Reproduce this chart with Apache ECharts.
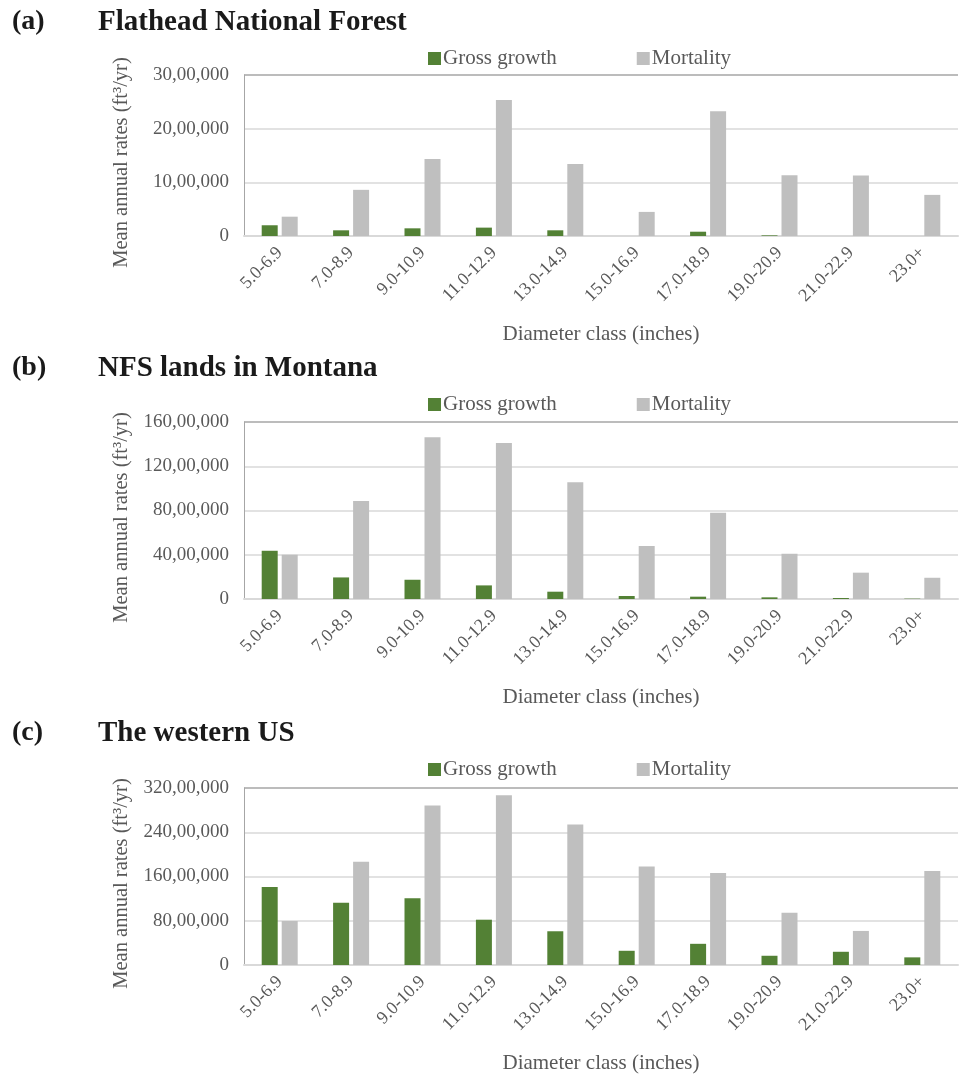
<!DOCTYPE html>
<html>
<head>
<meta charset="utf-8">
<title>Gross growth and mortality by diameter class</title>
<script src="https://cdn.jsdelivr.net/npm/echarts@6/dist/echarts.min.js"></script>
<style>
  html, body { margin: 0; padding: 0; background: #ffffff; }
  #chart { width: 959px; height: 1075px; }
</style>
</head>
<body>
<div id="chart"></div>
<script>
// Diameter classes shared by all three panels
const categories = ['5.0-6.9', '7.0-8.9', '9.0-10.9', '11.0-12.9', '13.0-14.9',
                    '15.0-16.9', '17.0-18.9', '19.0-20.9', '21.0-22.9', '23.0+'];

// (a) Flathead National Forest, ft³/yr
const flatheadGrowth    = [200000, 106000, 143000, 156000, 106000, 0, 80000, 12000, 0, 0];
const flatheadMortality = [360000, 860000, 1433000, 2536000, 1340000, 449000, 2324000, 1134000, 1128000, 766000];

// (b) NFS lands in Montana, ft³/yr
const montanaGrowth    = [4360000, 1950000, 1740000, 1230000, 660000, 270000, 210000, 150000, 90000, 30000];
const montanaMortality = [4000000, 8870000, 14620000, 14100000, 10550000, 4780000, 7790000, 4090000, 2380000, 1920000];

// (c) The western US, ft³/yr
const westernGrowth    = [14110000, 11240000, 12080000, 8190000, 6100000, 2570000, 3830000, 1670000, 2390000, 1380000];
const westernMortality = [7950000, 18660000, 28830000, 30680000, 25420000, 17820000, 16630000, 9450000, 6160000, 16990000];

// Panel headings and y-axis ranges
const panelLetters = ['(a)', '(b)', '(c)'];
const panelTitles  = ['Flathead National Forest', 'NFS lands in Montana', 'The western US'];
const axisMax      = [3000000, 16000000, 32000000];
const axisStep     = [1000000, 4000000, 8000000];

const seriesNames = ['Gross growth', 'Mortality'];
const xAxisName = 'Diameter class (inches)';
const yAxisName = 'Mean annual rates (ft³/yr)';

const panelData = [
  [flatheadGrowth, flatheadMortality],
  [montanaGrowth, montanaMortality],
  [westernGrowth, westernMortality]
];

// Layout of each panel on the page
const gridTops    = [75, 422, 788];
const gridHeights = [161, 177, 178];
const titleTops   = [3, 349, 714];
const legendTops  = [43, 389, 754];

const FONT = "'Liberation Serif', 'Times New Roman', serif";
const TEXT = '#595959';
const GREEN = '#538135';
const GREY = '#bfbfbf';

// Thousands then pairs of digits, e.g. 30,00,000 and 160,00,000
function groupDigits(v) {
  if (v === 0) return '0';
  const s = String(Math.round(v));
  if (s.length <= 3) return s;
  const last3 = s.slice(-3);
  const rest = s.slice(0, -3);
  if (rest.length <= 2) return rest + ',' + last3;
  return rest.slice(0, -2) + ',' + rest.slice(-2) + ',' + last3;
}

const titles = [], legends = [], grids = [], xAxes = [], yAxes = [], series = [];

for (let i = 0; i < 3; i++) {
  titles.push({
    text: panelLetters[i], left: 7, top: titleTops[i],
    textStyle: { fontFamily: FONT, fontSize: 28, fontWeight: 'bold', color: '#1a1a1a' }
  });
  titles.push({
    text: panelTitles[i], left: 93, top: titleTops[i],
    textStyle: { fontFamily: FONT, fontSize: 29, fontWeight: 'bold', color: '#1a1a1a' }
  });
  legends.push({
    data: seriesNames, left: 423, top: legendTops[i],
    itemWidth: 13, itemHeight: 13, itemGap: 80, icon: 'rect',
    textStyle: { fontFamily: FONT, fontSize: 21, color: TEXT, padding: [0, 0, 0, -3] }
  });
  grids.push({ left: 244, right: 1, top: gridTops[i], height: gridHeights[i] });

  xAxes.push({
    type: 'category', gridIndex: i, data: categories,
    axisTick: { show: false },
    axisLine: { lineStyle: { color: '#d9d9d9', width: 2 } },
    axisLabel: { rotate: 45, margin: 14, fontFamily: FONT, fontSize: 18, color: TEXT, interval: 0 },
    name: xAxisName, nameLocation: 'middle', nameGap: 88,
    nameTextStyle: { fontFamily: FONT, fontSize: 21, color: TEXT }
  });

  const lineColors = [];
  for (let k = 0; k < Math.round(axisMax[i] / axisStep[i]); k++) lineColors.push('#d9d9d9');
  lineColors.push('#a6a6a6');

  yAxes.push({
    type: 'value', gridIndex: i, min: 0, max: axisMax[i], interval: axisStep[i],
    axisLine: { show: true, lineStyle: { color: '#a6a6a6', width: 1 } },
    axisTick: { show: false },
    splitLine: { lineStyle: { color: lineColors, width: 1.5 } },
    axisLabel: { margin: 15, fontFamily: FONT, fontSize: 19, color: TEXT, formatter: groupDigits },
    name: yAxisName, nameLocation: 'middle', nameGap: 112,
    nameTextStyle: { fontFamily: FONT, fontSize: 20.5, color: TEXT, padding: [0, 14, 0, 0] }
  });

  series.push({
    name: seriesNames[0], type: 'bar', xAxisIndex: i, yAxisIndex: i,
    data: panelData[i][0], barWidth: 16, barGap: '25%',
    itemStyle: { color: GREEN }, silent: true
  });
  series.push({
    name: seriesNames[1], type: 'bar', xAxisIndex: i, yAxisIndex: i,
    data: panelData[i][1], barWidth: 16, barGap: '25%',
    itemStyle: { color: GREY }, silent: true
  });
}

const chart = echarts.init(document.getElementById('chart'), null, { renderer: 'canvas' });
chart.setOption({
  animation: false,
  backgroundColor: '#ffffff',
  title: titles,
  legend: legends,
  grid: grids,
  xAxis: xAxes,
  yAxis: yAxes,
  series: series
});
</script>
</body>
</html>
